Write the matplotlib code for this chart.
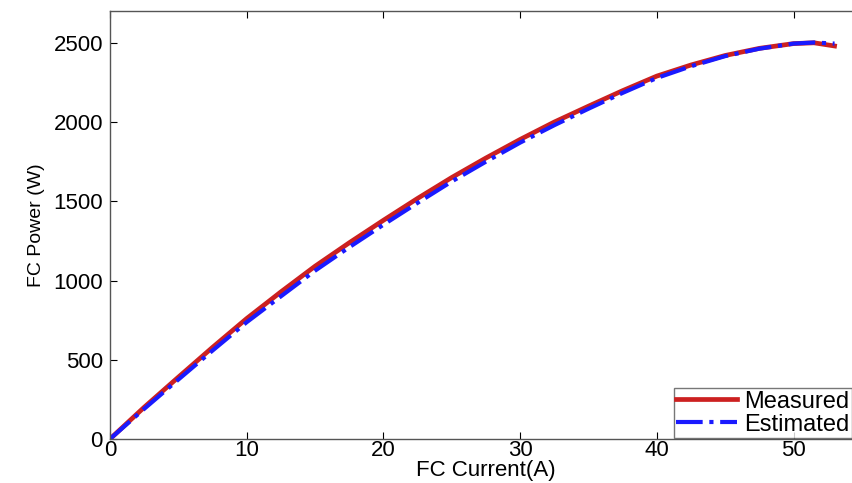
import matplotlib
matplotlib.use("Agg")
import matplotlib.pyplot as plt

# FC polarization power curve
current = [0, 2.5, 5, 7.5, 10, 12.5, 15, 17.5, 20, 22.5, 25, 27.5, 30,
           32.5, 35, 37.5, 40, 42.5, 45, 47.5, 50, 51.5, 53]
measured = [0, 200, 390, 578, 760, 928, 1090, 1238, 1380, 1518, 1650, 1773, 1890,
            2000, 2100, 2198, 2290, 2360, 2420, 2465, 2495, 2500, 2480]
estimated = [0, 190, 375, 558, 737, 900, 1062, 1210, 1352, 1490, 1625, 1750, 1870,
             1980, 2084, 2184, 2278, 2352, 2416, 2463, 2495, 2502, 2495]

plt.rcParams['font.family'] = ['Liberation Sans', 'DejaVu Sans']

fig = plt.figure(figsize=(8.52, 4.83), dpi=100)
# axes run past the right edge, like the cropped original
ax = fig.add_axes([0.129, 0.091, 0.8826, 0.886])

ax.plot(current, measured, color='#cc2020', linewidth=3.4, label='Measured',
        solid_joinstyle='round')
ax.plot(current, estimated, color='#1a1aff', linewidth=3.0, linestyle='-.', label='Estimated')

ax.set_xlim(0, 55)
ax.set_ylim(0, 2700)
ax.set_xticks([0, 10, 20, 30, 40, 50])
ax.set_yticks([0, 500, 1000, 1500, 2000, 2500])
ax.tick_params(direction='in', length=5, labelsize=16, top=True, right=True)
ax.tick_params(axis='x', pad=1)
ax.tick_params(axis='y', pad=5)
for s in ax.spines.values():
    s.set_color('#555555')
    s.set_linewidth(1.0)

ax.set_xlabel('FC Current(A)', fontsize=16, labelpad=-1)
ax.set_ylabel('FC Power (W)', fontsize=14, labelpad=6)

ax.legend(loc='lower right', bbox_to_anchor=(1.0, 0.093), bbox_transform=fig.transFigure,
          fontsize=17, frameon=True, fancybox=False, edgecolor='#555555',
          handlelength=2.6, borderpad=0.1, labelspacing=0.05, handletextpad=0.3,
          borderaxespad=0)

fig.savefig('out.png', dpi=100, facecolor='white')
